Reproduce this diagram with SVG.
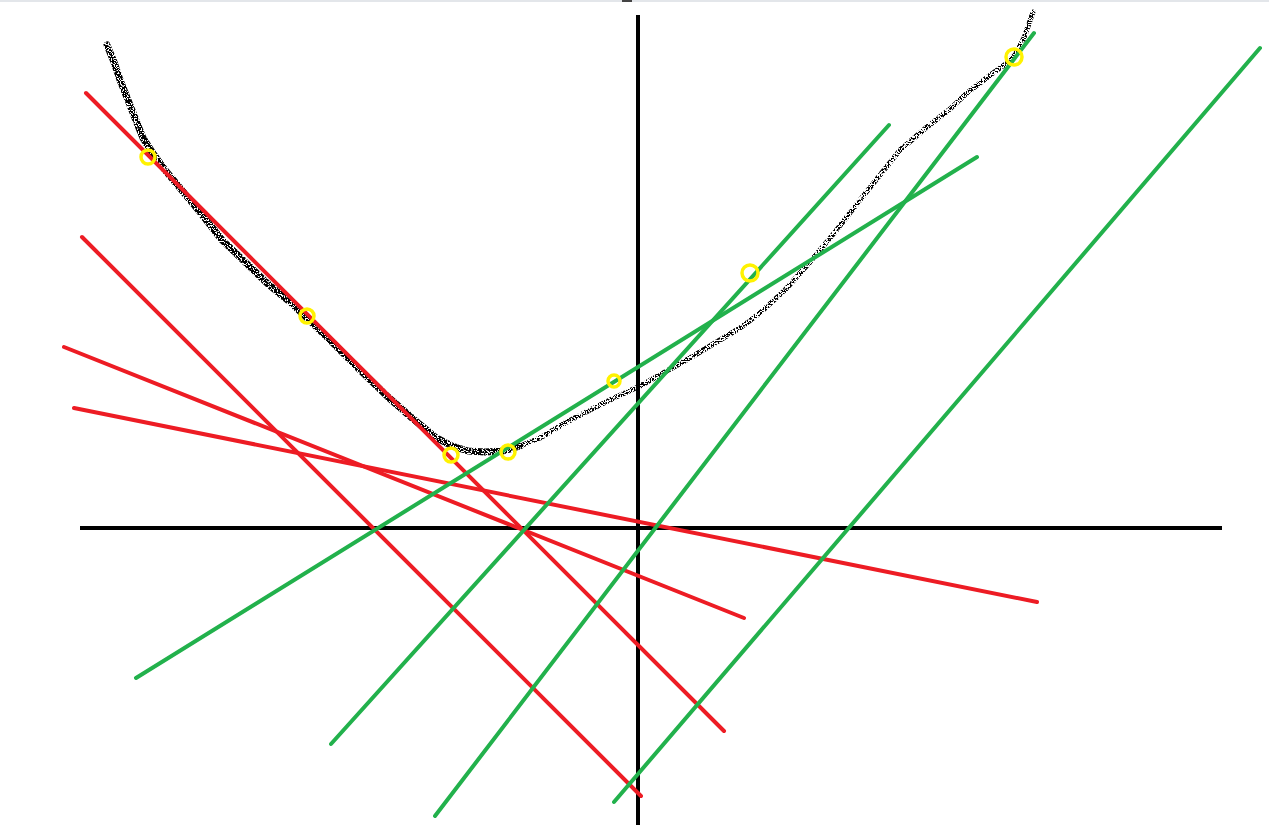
<svg xmlns="http://www.w3.org/2000/svg" width="1269" height="825" viewBox="0 0 1269 825">
<style>
.axis{stroke:#000;stroke-width:4;fill:none}
.red{stroke:#ed1c24;stroke-width:4;fill:none;stroke-linecap:round}
.green{stroke:#22b14c;stroke-width:4;fill:none;stroke-linecap:round}
.pt{stroke:#fff200;stroke-width:3.5;fill:none}
.curve{stroke:#000;fill:none;stroke-linejoin:round;stroke-linecap:round}
</style>
<defs>
<filter id="grain" x="0" y="0" width="1269" height="825" filterUnits="userSpaceOnUse">
<feTurbulence type="fractalNoise" baseFrequency="0.7" numOctaves="2" seed="7" result="n"/>
<feColorMatrix in="n" type="matrix" values="0 0 0 0 0  0 0 0 0 0  0 0 0 0 0  1 0 0 0 0" result="a"/>
<feComponentTransfer in="a" result="m"><feFuncA type="linear" slope="20" intercept="-8.4"/></feComponentTransfer>
<feComposite in="SourceGraphic" in2="m" operator="in"/>
</filter>
<filter id="grain2" x="0" y="0" width="1269" height="825" filterUnits="userSpaceOnUse">
<feTurbulence type="fractalNoise" baseFrequency="0.7" numOctaves="2" seed="11" result="n"/>
<feColorMatrix in="n" type="matrix" values="0 0 0 0 0  0 0 0 0 0  0 0 0 0 0  1 0 0 0 0" result="a"/>
<feComponentTransfer in="a" result="m"><feFuncA type="linear" slope="20" intercept="-9.6"/></feComponentTransfer>
<feComposite in="SourceGraphic" in2="m" operator="in"/>
</filter>
</defs>
<rect x="0" y="0" width="1269" height="825" fill="#fff"/>
<rect x="0" y="0" width="1269" height="2" fill="#e3e6ea"/>
<rect x="622" y="0" width="10" height="2" fill="#444"/>
<g id="axes">
<line class="axis" x1="638" y1="15" x2="638" y2="825"/>
<line class="axis" x1="80" y1="528" x2="1222" y2="528"/>
</g>
<g id="curve">
<polyline class="curve" stroke-width="7" filter="url(#grain)" points="107,45 114,62 120,80 128,100 135,118 143,138 152,152 165,170 180,188 200,212 222,240 245,262 268,284 290,302 307,318 330,340 360,370 388,397 412,418 435,437 452,446 468,451 485,452 503,451 520,446"/>
<polyline class="curve" stroke-width="5" filter="url(#grain2)" points="520,446 540,438 565,423 590,410 614,398 640,386 665,372 690,358 715,343 740,328 760,313 785,290 810,262 835,232 860,200 880,175 900,150 927,127 950,109 967,93 993,73 1007,63 1015,55 1024,38 1033,12"/>
</g>
<g id="connectors">
<line class="red" x1="86" y1="93" x2="724" y2="731"/>
<line class="red" x1="82" y1="237" x2="641" y2="796"/>
<line class="red" x1="64" y1="347" x2="744" y2="618"/>
<line class="red" x1="74" y1="408" x2="1037" y2="602"/>
<line class="green" x1="136" y1="678" x2="977" y2="157"/>
<line class="green" x1="331" y1="744" x2="889" y2="125"/>
<line class="green" x1="435" y1="816" x2="1034" y2="33"/>
<line class="green" x1="614" y1="802" x2="1260" y2="48"/>
</g>
<g id="points">
<circle class="pt" cx="148" cy="157" r="7"/>
<circle class="pt" cx="307" cy="316" r="7"/>
<circle class="pt" cx="451" cy="455" r="7"/>
<circle class="pt" cx="508" cy="452" r="7"/>
<circle class="pt" cx="614" cy="381" r="6"/>
<circle class="pt" cx="750" cy="273" r="8"/>
<circle class="pt" cx="1014" cy="57" r="8"/>
</g>
</svg>
